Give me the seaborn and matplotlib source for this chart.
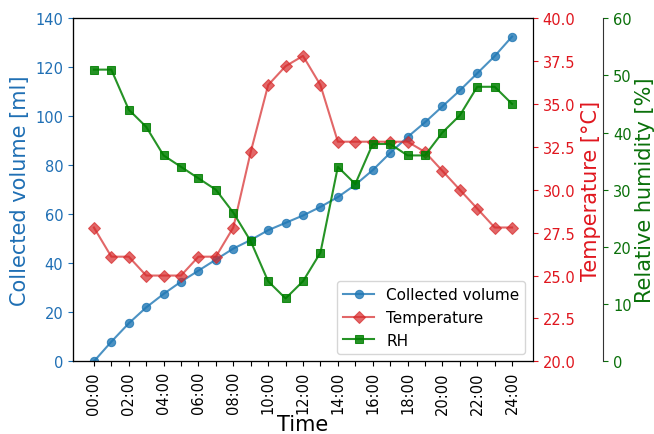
import pandas as pd
import matplotlib.pyplot as plt
import seaborn as sns

# hourly readings, 00:00 .. 24:00
hours = list(range(25))
volume = [0, 8, 15.5, 22, 27.5, 32.5, 37, 41.5, 46, 49.5, 53.5, 56.5, 59.5,
          63, 67, 72, 78, 85, 91.5, 97.5, 104, 110.5, 117.5, 124.5, 132.5]
temperature = [27.8, 26.1, 26.1, 25.0, 25.0, 25.0, 26.1, 26.1, 27.8, 32.2, 36.1,
               37.2, 37.8, 36.1, 32.8, 32.8, 32.8, 32.8, 32.8, 32.2, 31.1, 30.0,
               28.9, 27.8, 27.8]
rh = [51, 51, 44, 41, 36, 34, 32, 30, 26, 21, 14, 11, 14, 19, 34, 31, 38, 38,
      36, 36, 40, 43, 48, 48, 45]
tick_labels = ['%02d:00' % h if h % 2 == 0 else '' for h in hours]

df = pd.DataFrame({'hour': hours, 'volume': volume, 'temp': temperature, 'rh': rh})

fig, ax = plt.subplots(figsize=(6.54, 4.35), dpi=100)
fig.subplots_adjust(left=0.1116, right=0.815, top=0.956, bottom=0.167)
ax2 = ax.twinx()
ax3 = ax.twinx()
ax3.spines['right'].set_position(('axes', 1.153))

sns.lineplot(data=df, x='hour', y='volume', ax=ax, color='tab:blue', marker='o',
             markersize=6, markeredgecolor='tab:blue', alpha=0.8, label='Collected volume', legend=False)
sns.lineplot(data=df, x='hour', y='temp', ax=ax2, color='tab:red', marker='D',
             markersize=6, markeredgecolor='tab:red', alpha=0.7, label='Temperature', legend=False)
sns.lineplot(data=df, x='hour', y='rh', ax=ax3, color='green', marker='s',
             markersize=6, markeredgecolor='green', alpha=0.85, label='RH', legend=False)

ax.set_xlim(-1.2, 25.2)
ax.set_ylim(0, 140)
ax2.set_ylim(20, 40)
ax3.set_ylim(0, 60)

ax.set_xticks(hours)
ax.set_xticklabels(tick_labels, rotation=90, fontsize=10.5)
ax.set_xlabel('Time', fontsize=15, labelpad=0)

ax.set_ylabel('Collected volume [ml]', fontsize=15, color='#1f6fb4')
ax.tick_params(axis='y', labelsize=10.5, colors='#1f6fb4')
ax2.set_ylabel('Temperature [°C]', fontsize=15, color='#e0161e')
ax2.tick_params(axis='y', labelsize=10.5, colors='#e0161e')
ax3.set_ylabel('Relative humidity [%]', fontsize=15, color='#0a700a', labelpad=2)
ax3.tick_params(axis='y', labelsize=10.5, colors='#0a700a')
ax3.spines['right'].set_color('#333333')

handles = []
labels = []
for a in (ax, ax2, ax3):
    h, l = a.get_legend_handles_labels()
    handles += h
    labels += l
ax3.legend(handles, labels, loc='lower right', fontsize=11)

plt.savefig('out.png', dpi=100)
